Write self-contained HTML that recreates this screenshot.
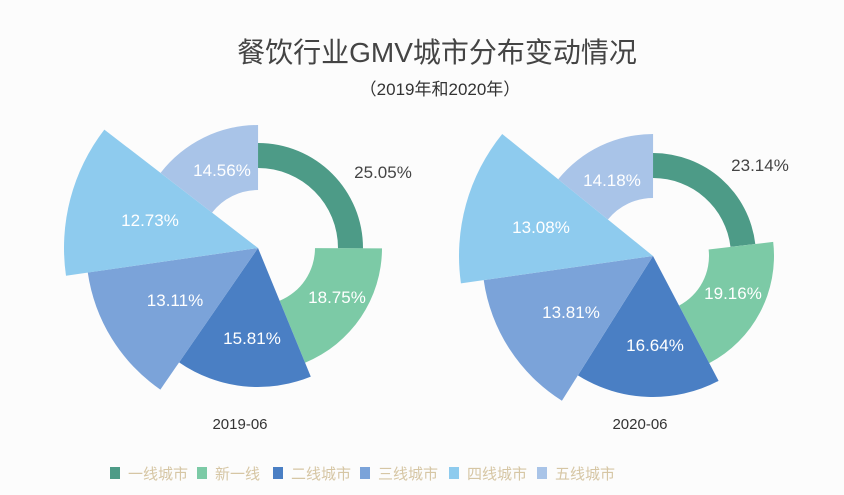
<!DOCTYPE html>
<html><head><meta charset="utf-8"><style>
body{margin:0;background:#fcfcfc;}
svg{display:block;font-family:"Liberation Sans","Noto Sans CJK SC",sans-serif;}
</style></head><body>
<svg id="s" width="844" height="495" viewBox="0 0 844 495" xmlns="http://www.w3.org/2000/svg">
<rect width="844" height="495" fill="#fcfcfc"/>
<text x="437" y="62" font-size="28" fill="#444" text-anchor="middle">餐饮行业GMV城市分布变动情况</text>
<text x="440" y="95" font-size="17" fill="#333" text-anchor="middle">（2019年和2020年）</text>
<g id="g"></g>
<g font-size="17" fill="#fff" text-anchor="middle">
<text x="222" y="176">14.56%</text>
<text x="150" y="226">12.73%</text>
<text x="175" y="306">13.11%</text>
<text x="252" y="344">15.81%</text>
<text x="337" y="303">18.75%</text>
<text x="612" y="186">14.18%</text>
<text x="541" y="233">13.08%</text>
<text x="571" y="318">13.81%</text>
<text x="655" y="351">16.64%</text>
<text x="733" y="299">19.16%</text>
</g>
<text x="383" y="178" font-size="17" fill="#444" text-anchor="middle">25.05%</text>
<text x="760" y="171" font-size="17" fill="#444" text-anchor="middle">23.14%</text>
<text x="240" y="429" font-size="15" fill="#333" text-anchor="middle">2019-06</text>
<text x="640" y="429" font-size="15" fill="#333" text-anchor="middle">2020-06</text>
<g font-size="15" fill="#d6c6a4">
<rect x="110" y="467" width="10" height="12" fill="#4d9b87"/><text x="128" y="479">一线城市</text>
<rect x="197" y="467" width="10" height="12" fill="#7ccaa6"/><text x="215" y="479">新一线</text>
<rect x="273" y="467" width="10" height="12" fill="#4a7fc4"/><text x="291" y="479">二线城市</text>
<rect x="360" y="467" width="10" height="12" fill="#7ba3d9"/><text x="378" y="479">三线城市</text>
<rect x="449" y="467" width="10" height="12" fill="#8ecbee"/><text x="467" y="479">四线城市</text>
<rect x="537" y="467" width="10" height="12" fill="#a9c4e8"/><text x="555" y="479">五线城市</text>
</g>
</svg>
<script>
var cols=["#4d9b87","#7ccaa6","#4a7fc4","#7ba3d9","#8ecbee","#a9c4e8"];
function pt(cx,cy,r,a){a=a*Math.PI/180;return [cx+r*Math.sin(a),cy-r*Math.cos(a)];}
function chart(cx,cy,pcts,ri,ro){
 var s="",a0=0;
 for(var i=0;i<6;i++){
  var a1=a0+pcts[i]*3.6;
  var large=(a1-a0)>180?1:0;
  var p1=pt(cx,cy,ro[i],a0),p2=pt(cx,cy,ro[i],a1);
  var d="M"+p1+" A"+ro[i]+" "+ro[i]+" 0 "+large+" 1 "+p2;
  if(ri[i]>0){var q2=pt(cx,cy,ri[i],a1),q1=pt(cx,cy,ri[i],a0);
   d+=" L"+q2+" A"+ri[i]+" "+ri[i]+" 0 "+large+" 0 "+q1+" Z";}
  else d+=" L"+cx+","+cy+" Z";
  s+='<path d="'+d+'" fill="'+cols[i]+'"/>';
  a0=a1;
 }
 return s;
}
var order=[0,1,2,3,5,4];
var g=document.getElementById("g");
var h=chart(258,248,[25.05,18.75,15.81,13.11,12.73,14.56],[80,57,0,0,0,58],[105,124,139,172,194,123])
 +chart(653,256,[23.14,19.16,16.64,13.81,13.08,14.18],[78,56,0,0,0,58],[103,121,141,171,194,122]);
g.innerHTML=h;
</script>
</body></html>
